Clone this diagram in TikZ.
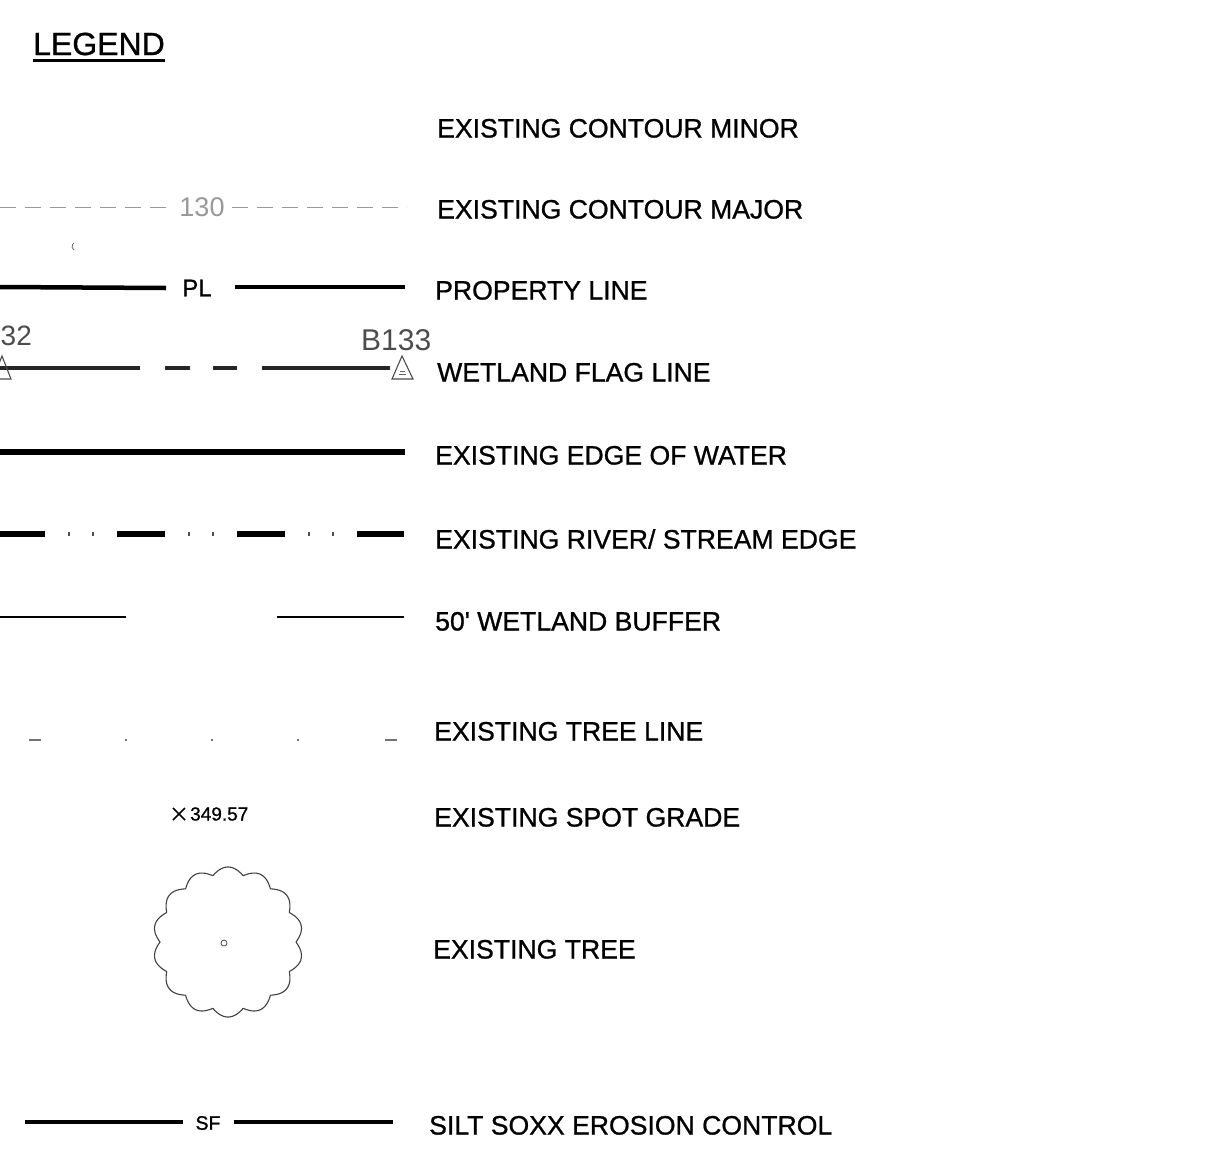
\documentclass[tikz,border=0pt]{standalone}
\usepackage{fontspec}
\setmainfont{Liberation Sans}
\newfontfamily\lblfont[FakeBold=0.9]{Liberation Sans}
\newfontfamily\cadfont{Liberation Sans}
\begin{document}
\begin{tikzpicture}[x=1pt,y=-1pt,
  lbl/.style={anchor=base west, inner sep=0pt, font=\lblfont\fontsize{26.6}{30}\selectfont},
  small/.style={inner sep=0pt, font=\lblfont\fontsize{24}{28}\selectfont},
  cad/.style={inner sep=0pt, text=black!70, font=\cadfont\fontsize{30}{34}\selectfont},
  heavy/.style={line width=5.5pt, black},
  medium/.style={line width=4.5pt, black},
  thinl/.style={line width=2.4pt, black},
  flagline/.style={line width=4.5pt, black!85},
  faint/.style={line width=1pt, black!40},
  treeoutline/.style={line width=1.1pt, black!75}]
\useasboundingbox (0,0) rectangle (1209,1167);

% title
\node[anchor=base west, inner sep=0pt, font=\lblfont\fontsize{32}{36}\selectfont] (legend) at (33,55) {LEGEND};
\draw[line width=3pt] (legend.south west) ++(0,5) coordinate (ul1) -- (legend.south east |- ul1) coordinate (ul2);

% labels
\node[lbl] (t1) at (437,137.5) {EXISTING CONTOUR MINOR};
\node[lbl] (t2) at (437,218.5) {EXISTING CONTOUR MAJOR};
\node[lbl] (t3) at (435,299.5) {PROPERTY LINE};
\node[lbl] (t4) at (437,381.5) {WETLAND FLAG LINE};
\node[lbl] (t5) at (435,464.5) {EXISTING EDGE OF WATER};
\node[lbl] (t6) at (435,548.5) {EXISTING RIVER/ STREAM EDGE};
\node[lbl] (t7) at (435,630.5) {50\symbol{39} WETLAND BUFFER};
\node[lbl] (t8) at (434,740.5) {EXISTING TREE LINE};
\node[lbl] (t9) at (434,826.5) {EXISTING SPOT GRADE};
\node[lbl] (t10) at (433,958.5) {EXISTING TREE};
\node[lbl] (t11) at (429,1134.5) {SILT SOXX EROSION CONTROL};

% contour major
\coordinate (cm1) at (0,207);
\coordinate (cm2) at (172,207);
\coordinate (cm3) at (232,207);
\coordinate (cm4) at (407,207);
\draw[faint, dash pattern=on 16pt off 9pt] (cm1) -- (cm2);
\draw[faint, dash pattern=on 16pt off 9pt] (cm3) -- (cm4);
\node[inner sep=0pt, text=black!40, font=\cadfont\fontsize{27}{30}\selectfont] (c130) at (202,207) {130};

% stray mark
\draw[black!60, line width=0.8pt] (74,250) arc[start angle=120, end angle=240, radius=4];

% property line
\node[small] (pl) at (197,288) {PL};
\coordinate (pla) at (0,287);
\coordinate (plb) at (235,287);
\coordinate (plc) at (405,287);
\draw[medium] (pla) -- (pl.west -| 166,0);
\draw[medium] (plb) -- (plc);

% wetland flag line
\node[cad, anchor=west, font=\cadfont\fontsize{28}{32}\selectfont] (b132) at (0.5,336) {32};
\node[cad, anchor=west] (b133) at (361,340) {B133};
\draw[flagline] (0,368) -- (140,368);
\draw[flagline] (165,368) -- (190,368);
\draw[flagline] (213,368) -- (237,368);
\draw[flagline] (262,368) -- (390,368);
\draw[black!70, line width=1.1pt] (392,379) -- (402,356) -- (413,379) -- cycle;
\draw[black!70, line width=1.1pt] (-7,379) -- (2,356) -- (11,379) -- cycle;
\draw[black!60, line width=0.7pt] (399,374) -- (406,374) (400,371) -- (405,371);

% edge of water
\draw[heavy] (0,452) -- (405,452);

% river / stream edge
\foreach \a/\b in {0/45,117/165,237/285,357/404}
  \draw[heavy] (\a,534) -- (\b,534);
\foreach \p in {69,93,189,213,309,333}
  \draw[black!70, line width=1.5pt] (\p,532) -- (\p,536);

% wetland buffer
\draw[thinl] (0,617) -- (126,617);
\draw[thinl] (277,617) -- (404,617);

% tree line
\draw[black!55, line width=1.4pt] (29,740) -- (41,740);
\foreach \p in {126,212,298}
  \draw[black!55, line width=1.4pt] (\p-1,740) -- (\p+1,740);
\draw[black!55, line width=1.4pt] (385,740) -- (397,740);

% spot grade
\draw[line width=1.6pt] (173,808) -- (185,820) (173,820) -- (185,808);
\node[inner sep=0pt, anchor=west, font=\lblfont\fontsize{19}{22}\selectfont] (sg) at (190,814) {349.57};

% tree
\draw[treeoutline] plot[domain=0:360, samples=721, variable=\t]
  ({228+(68+7*abs(sin(7*\t)))*cos(\t)},{942+(68+7*abs(sin(7*\t)))*sin(\t)});
\draw[black!70, line width=0.8pt] (224,943) circle[radius=3];

% silt soxx
\node[inner sep=0pt, font=\lblfont\fontsize{19.5}{22}\selectfont] (sf) at (208,1123) {SF};
\coordinate (sfa) at (25,1122);
\coordinate (sfb) at (183,1122);
\coordinate (sfc) at (234,1122);
\coordinate (sfd) at (393,1122);
\draw[line width=3.5pt] (sfa) -- (sfb);
\draw[line width=3.5pt] (sfc) -- (sfd);
\end{tikzpicture}
\end{document}
